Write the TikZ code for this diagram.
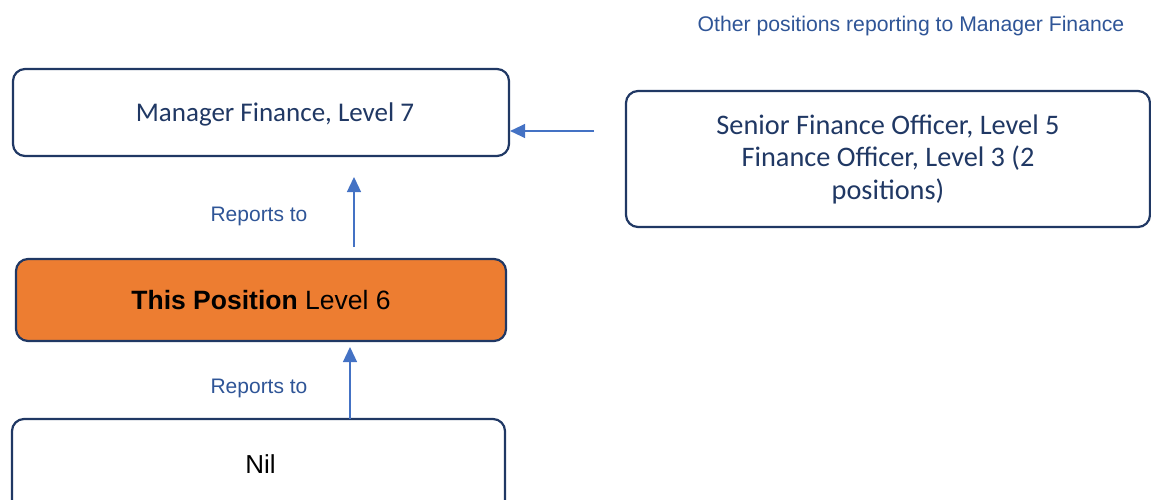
\documentclass[tikz,border=0pt]{standalone}
\usepackage{fontspec}
\setmainfont{Carlito}
\newfontfamily\arialfont{Liberation Sans}
\usetikzlibrary{arrows.meta}
\definecolor{navy}{HTML}{203864}
\definecolor{linkblue}{HTML}{4472C4}
\definecolor{labelblue}{HTML}{2F5597}
\definecolor{posorange}{HTML}{ED7D31}
\begin{document}
\begin{tikzpicture}[x=1pt,y=-1pt,
  box/.style={draw=navy, line width=2.2pt, rounded corners=12pt, fill=white,
    inner sep=0pt, align=center},
  boxtext/.style={font=\fontsize{27}{32}\selectfont, text=navy, align=center},
  link/.style={draw=linkblue, line width=1.3pt,
    -{Triangle[length=15pt,width=14pt]}},
  linklabel/.style={font=\arialfont\fontsize{21}{25}\selectfont, text=labelblue}]
  \useasboundingbox (0,0) rectangle (1151,500);

  % boxes
  \node[box, minimum width=496pt, minimum height=87pt] (mgr) at (261,112.5) {};
  \node[boxtext] (mgrText) at ([xshift=14pt,yshift=-2pt]mgr.center)
    {Manager Finance, Level 7};
  \node[box, boxtext, font=\fontsize{28.3}{32.5}\selectfont,
    minimum width=524pt, minimum height=136pt] (others) at (888,159)
    {Senior Finance Officer, Level 5\\Finance Officer, Level 3 (2\\positions)};
  \node[box, fill=posorange, minimum width=490pt, minimum height=82pt,
    font=\arialfont\fontsize{26.5}{30}\selectfont] (this) at (261,300)
    {\textbf{This Position} Level 6};
  \node[box, minimum width=493pt, minimum height=100pt] (nil) at (258.5,469) {};
  \node[font=\arialfont\fontsize{26}{30}\selectfont] (nilText)
    at ([xshift=2pt,yshift=5pt]nil.center) {Nil};

  % reporting lines
  \coordinate (nilTop) at (350,419);
  \coordinate (thisBot) at (350,347);
  \draw[link] (nilTop) -- (thisBot);
  \coordinate (thisTop) at (354,247);
  \coordinate (mgrBot) at (354,177);
  \draw[link] (thisTop) -- (mgrBot);
  \coordinate (othersLeft) at (594,131);
  \draw[link] (othersLeft) -- (mgr.east |- othersLeft);

  % labels
  \node[linklabel] (lab1) at (259,388) {Reports to};
  \node[linklabel] (lab2) at (259,216) {Reports to};
  \node[linklabel, font=\arialfont\fontsize{21.2}{25}\selectfont] (lab3) at (911,26)
    {Other positions reporting to Manager Finance};
\end{tikzpicture}
\end{document}
